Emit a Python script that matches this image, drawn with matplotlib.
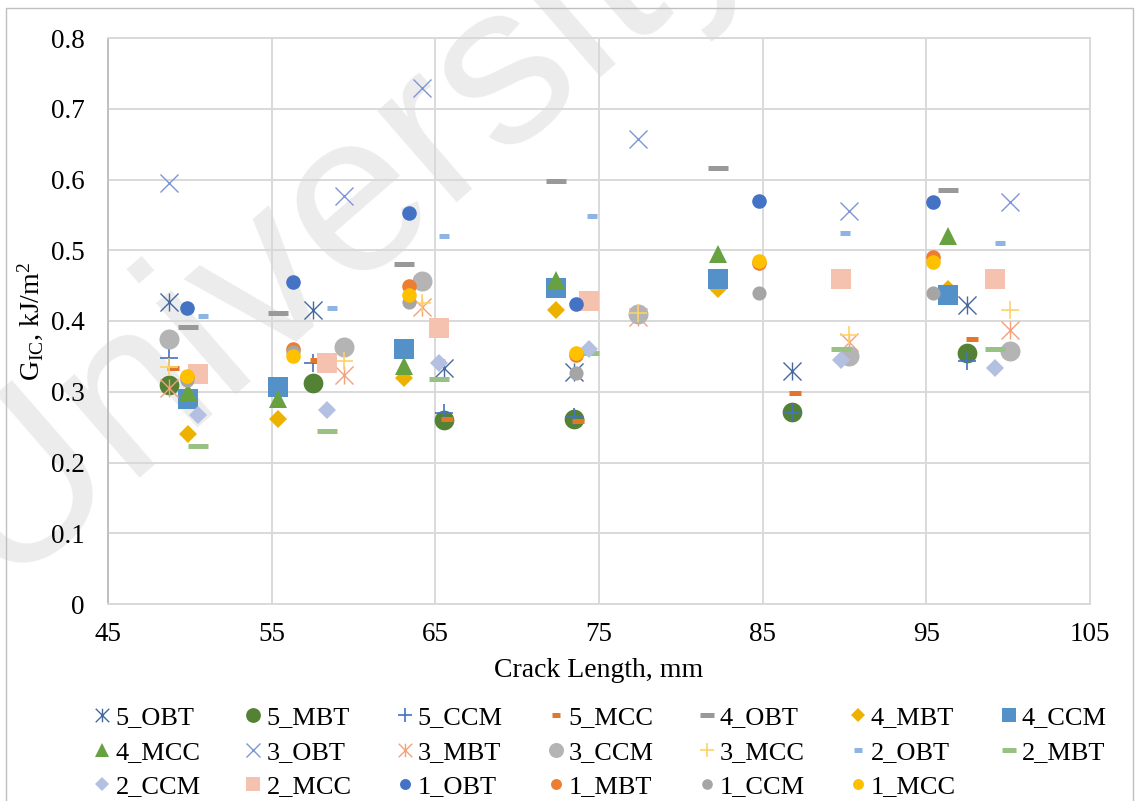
import numpy as np
import matplotlib.pyplot as plt
from matplotlib.path import Path
from matplotlib.patches import Rectangle

plt.rcParams['font.family'] = ['Liberation Serif', 'DejaVu Serif']
plt.rcParams['mathtext.fontset'] = 'custom'
plt.rcParams['mathtext.rm'] = 'Liberation Serif'
plt.rcParams['mathtext.it'] = 'Liberation Serif:italic'

# %% data (crack length mm, G_IC kJ/m2)
x5 = [48.7, 57.5, 65.5, 73.5, 86.8, 97.5]
x5_mcc = [49.0, 57.7, 65.7, 73.7, 87.0, 97.8]
x4 = [49.9, 55.4, 63.1, 72.4, 82.3, 96.3]
x3 = [48.7, 59.4, 64.2, 77.4, 90.3, 100.1]
x2 = [50.5, 58.4, 65.2, 74.4, 89.8, 99.2]
x2_obt = [50.8, 58.7, 65.5, 74.6, 90.0, 99.5]
x1 = [49.8, 56.3, 63.4, 73.6, 84.8, 95.4]

g5_obt = [0.427, 0.415, 0.333, 0.328, 0.330, 0.422]
g5_mbt = [0.310, 0.313, 0.260, 0.262, 0.272, 0.355]
g5_ccm = [0.347, 0.340, 0.270, 0.265, 0.270, 0.343]
g5_mcc = [0.333, 0.345, 0.262, 0.258, 0.298, 0.375]

g4_obt = [0.392, 0.412, 0.480, 0.598, 0.616, 0.585]
g4_mbt = [0.240, 0.262, 0.320, 0.415, 0.445, 0.445]
g4_ccm = [0.290, 0.307, 0.360, 0.447, 0.460, 0.437]
g4_mcc = [0.300, 0.290, 0.336, 0.458, 0.495, 0.520]

g3_obt = [0.595, 0.577, 0.730, 0.657, 0.555, 0.568]
g3_mbt = [0.305, 0.323, 0.420, 0.406, 0.370, 0.387]
g3_ccm = [0.374, 0.363, 0.457, 0.410, 0.350, 0.358]
g3_mcc = [0.335, 0.343, 0.425, 0.412, 0.380, 0.415]

g2_obt = [0.407, 0.418, 0.520, 0.548, 0.524, 0.510]
g2_mbt = [0.223, 0.245, 0.318, 0.355, 0.360, 0.360]
g2_ccm = [0.267, 0.274, 0.340, 0.360, 0.345, 0.333]
g2_mcc = [0.325, 0.340, 0.390, 0.428, 0.460, 0.460]

g1_obt = [0.418, 0.455, 0.553, 0.424, 0.569, 0.568]
g1_mbt = [0.321, 0.360, 0.449, 0.352, 0.482, 0.490]
g1_ccm = [0.316, 0.356, 0.427, 0.327, 0.440, 0.440]
g1_mcc = [0.322, 0.350, 0.437, 0.355, 0.485, 0.483]

x_ticks = [45, 55, 65, 75, 85, 95, 105]
y_ticks = [0, 0.1, 0.2, 0.3, 0.4, 0.5, 0.6, 0.7, 0.8]
y_tick_labels = ['0', '0.1', '0.2', '0.3', '0.4', '0.5', '0.6', '0.7', '0.8']

# excel style asterisk: x with a vertical bar
star = Path([(-1, -1), (1, 1), (-1, 1), (1, -1), (0, -1), (0, 1)],
            [Path.MOVETO, Path.LINETO] * 3)

# (label, x, y, marker, color, size, edge width)
series = [
    ('5_OBT', x5, g5_obt, star, '#44699F', 13, 1.0),
    ('5_MBT', x5, g5_mbt, 'o', '#548235', 14.2, 0),
    ('5_CCM', x5, g5_ccm, '+', '#4472C4', 13, 1.2),
    ('5_MCC', x5_mcc, g5_mcc, '_', '#E2772C', 8, 3.6),
    ('4_OBT', x4, g4_obt, '_', '#999999', 14, 3.6),
    ('4_MBT', x4, g4_mbt, 'D', '#EDB200', 9.2, 0),
    ('4_CCM', x4, g4_ccm, 's', '#5591C9', 14, 0),
    ('4_MCC', x4, g4_mcc, '^', '#67A140', 13.5, 0),
    ('3_OBT', x3, g3_obt, 'x', '#7E97D4', 13, 1.0),
    ('3_MBT', x3, g3_mbt, star, '#F4A07A', 13, 1.0),
    ('3_CCM', x3, g3_ccm, 'o', '#B4B4B4', 14.4, 0),
    ('3_MCC', x3, g3_mcc, '+', '#FFD265', 13, 1.2),
    ('2_OBT', x2_obt, g2_obt, '_', '#8DB4E2', 7.5, 3.6),
    ('2_MBT', x2, g2_mbt, '_', '#97C283', 14, 3.6),
    ('2_CCM', x2, g2_ccm, 'D', '#B3C0E2', 9.2, 0),
    ('2_MCC', x2, g2_mcc, 's', '#F5C2B0', 14, 0),
    ('1_OBT', x1, g1_obt, 'o', '#4472C4', 10.5, 0),
    ('1_MBT', x1, g1_mbt, 'o', '#ED7D31', 10.5, 0),
    ('1_CCM', x1, g1_ccm, 'o', '#A5A5A5', 10.2, 0),
    ('1_MCC', x1, g1_mcc, 'o', '#FFC000', 10.5, 0),
]

# %% figure
fig = plt.figure(figsize=(11.42, 8.01), dpi=100)
fig.patches.append(Rectangle((6 / 1142, -0.01), 1127 / 1142, 1 - 8 / 801 + 0.01,
                             transform=fig.transFigure, fill=False,
                             edgecolor='#BFBFBF', lw=1))
# watermark behind the chart
fig.text(0.0, 1 - 585 / 801, 'University', rotation=41,
         rotation_mode='anchor', ha='left', va='baseline', fontsize=165,
         color='#ECECEC', family='Liberation Sans', zorder=-1)

ax = fig.add_axes([108 / 1142, 1 - 604 / 801, 982 / 1142, 566 / 801])
ax.set_facecolor('none')

handles = []
for label, xs, ys, mk, col, ms, mew in series:
    h, = ax.plot(xs, ys, linestyle='none', marker=mk, color=col,
                 markersize=ms, markeredgewidth=mew, label=label)
    handles.append(h)

ax.set_xlim(45, 105)
ax.set_ylim(0, 0.8)
ax.set_xticks(x_ticks)
ax.set_yticks(y_ticks)
ax.set_yticklabels(y_tick_labels)
ax.tick_params(length=0, labelsize=19.5)
ax.tick_params(axis='y', pad=17)
ax.tick_params(axis='x', pad=13)
ax.grid(True, color='#D9D9D9', lw=1.4)
ax.set_axisbelow(True)
for s in ax.spines.values():
    s.set_color('#D9D9D9')
    s.set_linewidth(1.4)
ax.spines['left'].set_color('#BFBFBF')

ax.set_xlabel('Crack Length, mm', fontsize=20, labelpad=8)
ax.set_ylabel(r'G$_{\mathrm{IC}}$, kJ/m$^{\mathrm{2}}$', fontsize=20, labelpad=4)

# legend is row-major in the original, matplotlib fills by column
order = []
for c in range(7):
    for r in range(3):
        i = r * 7 + c
        if i < len(handles):
            order.append(i)
fig.legend([handles[i] for i in order], [series[i][0] for i in order],
           loc='center', bbox_to_anchor=(0.526, 0.061), ncol=7,
           frameon=False, fontsize=19, markerscale=0.75, handlelength=0.6,
           handletextpad=0.2, columnspacing=1.7, labelspacing=0.42,
           borderpad=0)

fig.savefig('out.png', dpi=100)
